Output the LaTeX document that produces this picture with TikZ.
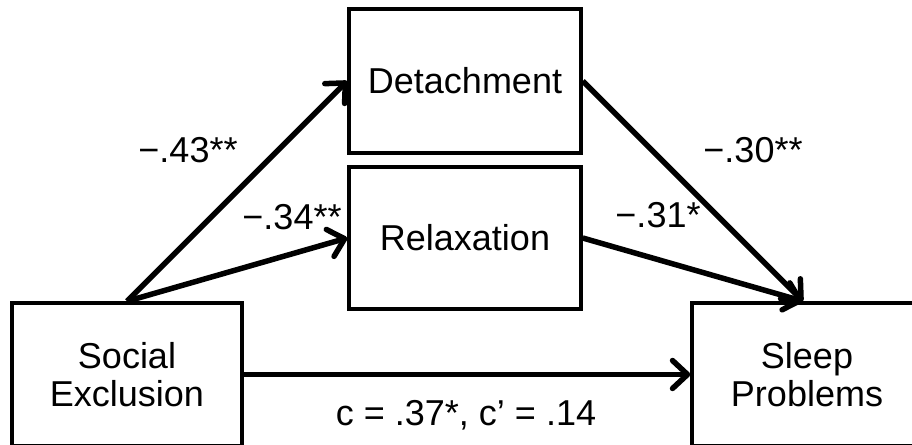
\documentclass[tikz,border=0pt]{standalone}
\usepackage{fontspec}
\setmainfont{Liberation Sans}
\usetikzlibrary{arrows.meta,calc}
\begin{document}
\begin{tikzpicture}[x=1pt,y=1pt,
  box/.style={draw, line width=3.5pt, minimum width=232pt, minimum height=144pt,
    inner sep=0pt, align=center, font=\fontsize{36}{38}\selectfont},
  conn/.style={line width=5.5pt, -{Straight Barb[length=15pt,width=28pt,round]}},
  lab/.style={anchor=base, inner sep=0pt, font=\fontsize{36}{38}\selectfont}]
\useasboundingbox (0,0) rectangle (912,444);
\clip (0,0) rectangle (912,444);
\node[box] (det) at (465,363) {Detachment};
\node[box, minimum height=142pt] (rel) at (465,206) {Relaxation};
\node[box, minimum width=230pt, minimum height=143pt] (soc) at (127,69.5) {Social\\Exclusion};
\node[box, minimum width=230pt, minimum height=143pt] (slp) at (807,69.5) {Sleep\\Problems};
\draw[conn] (soc.north) -- (det.west);
\draw[conn] (soc.north) -- (rel.west);
\draw[conn] (det.east) -- ($(slp.north)+(-4,0)$);
\draw[conn] (rel.east) -- ($(slp.north)+(-4,0)$);
\draw[conn] (soc.east) -- (slp.west);
\node[lab] (l1) at (188,281) {−.43**};
\node[lab] (l2) at (292,214) {−.34**};
\node[lab] (l3) at (753,281) {−.30**};
\node[lab] (l4) at (658,216) {−.31*};
\node[lab] (l5) at (466,19) {c = .37*, c’ = .14};
\end{tikzpicture}
\end{document}
